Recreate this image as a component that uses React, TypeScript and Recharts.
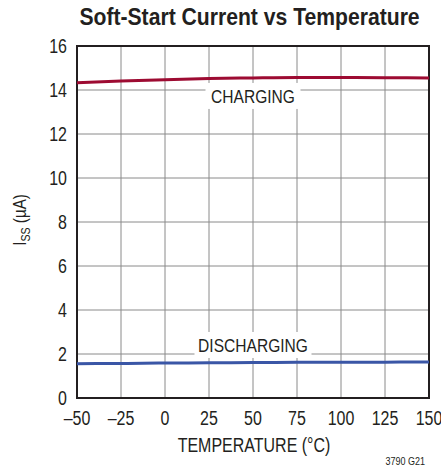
import { LineChart, Line, XAxis, YAxis, CartesianGrid, ReferenceArea, ReferenceDot } from "recharts";

// temperature (°C) vs soft-start current (µA)
const temps = [-50, -25, 0, 25, 50, 75, 100, 125, 150];
const charging = [14.33, 14.41, 14.47, 14.52, 14.55, 14.57, 14.57, 14.56, 14.55];
const discharging = [1.56, 1.57, 1.59, 1.6, 1.61, 1.62, 1.63, 1.63, 1.64];

const xTicks = [-50, -25, 0, 25, 50, 75, 100, 125, 150];
const yTicks = [0, 2, 4, 6, 8, 10, 12, 14, 16];

const data = temps.map((t, i) => ({ t, charging: charging[i], discharging: discharging[i] }));

const FONT = "'Liberation Sans', Arial, sans-serif";
const INK = "#231f20";
const SQ = 0.82; // horizontal squeeze to fake a narrow face

const fmtX = (v: number) => (v < 0 ? `\u2013${Math.abs(v)}` : `${v}`);

// text squeezed horizontally around its anchor point
const Narrow = ({ x, y, size, anchor = "middle", weight, dy, children, rotate, sq = SQ }: any) => (
  <g transform={`translate(${x},${y})${rotate ? ` rotate(${rotate})` : ""} scale(${sq},1)`}>
    <text x={0} y={0} dy={dy} textAnchor={anchor} fontFamily={FONT} fontSize={size} fontWeight={weight} fill={INK}>
      {children}
    </text>
  </g>
);

const XTick = (props: any) => {
  const { x, y, payload } = props;
  return <Narrow x={x} y={y} size={19.5} dy="0.71em">{fmtX(payload.value)}</Narrow>;
};

const YTick = (props: any) => {
  const { x, y, payload } = props;
  return <Narrow x={x} y={y} size={19.5} anchor="end" dy="0.36em">{payload.value}</Narrow>;
};

// white box with text, centered on a data point
const boxLabel = (text: string, w: number) => (props: any) => {
  const { cx, cy } = props;
  return (
    <g>
      <rect x={cx - w / 2} y={cy - 13} width={w} height={26} fill="#fff" />
      <Narrow x={cx} y={cy} size={19} dy="0.36em">{text}</Narrow>
    </g>
  );
};

export default function App() {
  return (
    <div style={{ position: "absolute", left: 0, top: 0, width: 441, height: 474, background: "#fff" }}>
      <LineChart width={441} height={474} data={data} margin={{ top: 46, right: 12, bottom: 0, left: 0 }}>
        <CartesianGrid stroke="#8a8a8a" strokeWidth={1} />
        <XAxis
          dataKey="t"
          type="number"
          domain={[-50, 150]}
          ticks={xTicks}
          height={76}
          axisLine={false}
          tickLine={false}
          tickSize={0}
          tickMargin={13}
          tick={<XTick />}
          interval={0}
        />
        <YAxis
          type="number"
          domain={[0, 16]}
          ticks={yTicks}
          width={77}
          axisLine={false}
          tickLine={false}
          tickSize={0}
          tickMargin={10}
          tick={<YTick />}
          interval={0}
        />
        <ReferenceDot x={50} y={13.73} r={0} shape={boxLabel("CHARGING", 95)} />
        <ReferenceDot x={50} y={2.41} r={0} shape={boxLabel("DISCHARGING", 117)} />
        <ReferenceArea x1={-50} x2={150} y1={0} y2={16} fill="none" stroke={INK} strokeWidth={2} />
        <Line type="monotone" dataKey="charging" stroke="#9d0b32" strokeWidth={3} dot={false} isAnimationActive={false} />
        <Line type="monotone" dataKey="discharging" stroke="#3a56a6" strokeWidth={3} dot={false} isAnimationActive={false} />
      </LineChart>
      <svg width={441} height={474} style={{ position: "absolute", left: 0, top: 0, pointerEvents: "none" }}>
        <Narrow x={249.5} y={25} size={23.5} weight="bold" sq={0.9}>
          Soft-Start Current vs Temperature
        </Narrow>
        <Narrow x={254} y={452} size={19.5}>TEMPERATURE (°C)</Narrow>
        <Narrow x={26} y={220} size={18.5} rotate={-90}>
          <tspan>I</tspan>
          <tspan fontSize={13} dy={4}>SS</tspan>
          <tspan dy={-4}> (µA)</tspan>
        </Narrow>
        <Narrow x={425} y={465} size={11} anchor="end">3790 G21</Narrow>
      </svg>
    </div>
  );
}
